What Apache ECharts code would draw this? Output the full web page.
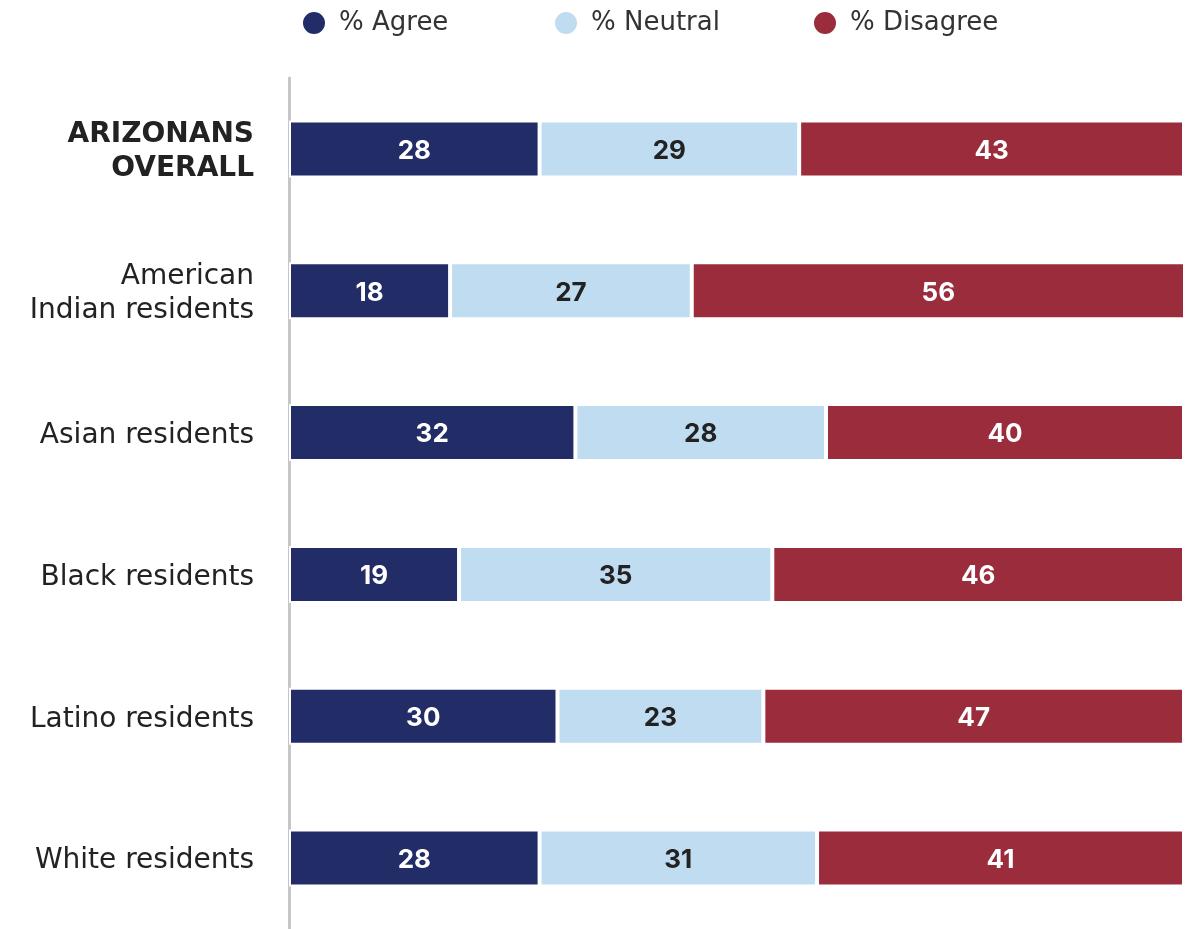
<!DOCTYPE html>
<html><head><meta charset="utf-8">
<script src="https://cdn.jsdelivr.net/npm/echarts@6/dist/echarts.min.js"></script>
<style>html,body{margin:0;padding:0;background:#fff}#c{width:1188px;height:929px}</style>
</head><body><div id="c"></div>
<script>
const categories = ['ARIZONANS\nOVERALL', 'American\nIndian residents', 'Asian residents', 'Black residents', 'Latino residents', 'White residents'];
const agree = [28, 18, 32, 19, 30, 28];
const neutral = [29, 27, 28, 35, 23, 31];
const disagree = [43, 56, 40, 46, 47, 41];
const seriesNames = ['% Agree', '% Neutral', '% Disagree'];
const colors = ['#222c66', '#bfdcf0', '#9b2c3c'];
const FONT = 'DejaVu Sans';
const NUMFONT = 'Inter';

const chart = echarts.init(document.getElementById('c'));
function mkSeries(name, data, color, labelColor) {
  return {
    name, type: 'bar', stack: 'a', data, barWidth: 57, clip: true,
    itemStyle: { color, borderColor: '#fff', borderWidth: 2 },
    label: { show: true, position: 'inside', color: labelColor, fontFamily: NUMFONT, fontWeight: 700, fontSize: 26, offset: [0, 2] },
    emphasis: { disabled: true }
  };
}
const legendPos = [301, 553, 812];
chart.setOption({
  animation: false,
  legend: seriesNames.map((n, i) => ({
    data: [n], left: legendPos[i], top: 10, padding: 0, icon: 'circle', itemWidth: 24, itemHeight: 24, itemGap: 0,
    textStyle: { fontFamily: FONT, fontSize: 26, color: '#333', fontWeight: 'normal', padding: [2, 0, 0, 8] }
  })),
  grid: { left: 289, right: 4, top: 78, height: 855, containLabel: false },
  xAxis: { type: 'value', min: 0, max: 100, show: false },
  yAxis: {
    type: 'category', data: categories, inverse: true,
    axisLine: { show: true, lineStyle: { color: '#c5c5ca', width: 3 } },
    axisTick: { show: false },
    axisLabel: {
      margin: 35, fontFamily: FONT, fontSize: 28, color: '#222', lineHeight: 34, align: 'right', padding: [6, 0, 0, 0],
      formatter: (v, i) => i === 0 ? '{b|' + v.split('\n').join('}\n{b|') + '}' : v,
      rich: { b: { fontFamily: FONT, fontSize: 28, fontWeight: 700, color: '#222', lineHeight: 34 } }
    }
  },
  series: [
    mkSeries(seriesNames[0], agree, colors[0], '#fff'),
    mkSeries(seriesNames[1], neutral, colors[1], '#222'),
    mkSeries(seriesNames[2], disagree, colors[2], '#fff')
  ]
});
</script></body></html>
